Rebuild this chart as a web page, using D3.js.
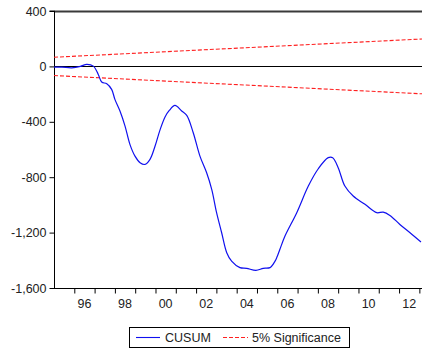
<!DOCTYPE html>
<html><head><meta charset="utf-8">
<script src="https://cdn.jsdelivr.net/npm/d3@7"></script>
<style>
html,body{margin:0;padding:0;background:#fff;}
svg{display:block;font-family:"Liberation Sans",Arial,sans-serif;}
</style></head>
<body><svg id="c" width="422" height="352"></svg>
<script>
const years = [1995.00,1995.39,1995.87,1996.30,1996.61,1996.94,1997.18,1997.35,1997.60,1997.84,1998.00,1998.25,1998.50,1998.74,1998.99,1999.24,1999.48,1999.73,1999.98,2000.22,2000.47,2000.68,2000.96,2001.29,2001.54,2001.86,2002.19,2002.52,2002.77,2003.01,2003.26,2003.51,2003.75,2004.16,2004.49,2004.95,2005.31,2005.64,2005.89,2005.99,2006.13,2006.38,2006.96,2007.53,2008.02,2008.51,2008.73,2009.00,2009.33,2009.74,2010.32,2010.90,2011.22,2011.55,2012.04,2012.54,2013.08];
const cusum = [-5,-5,-10,0,15,2,-58,-113,-125,-166,-238,-322,-431,-563,-648,-695,-708,-671,-575,-460,-365,-318,-282,-322,-354,-479,-648,-768,-888,-1056,-1201,-1345,-1406,-1453,-1458,-1473,-1458,-1453,-1406,-1375,-1320,-1225,-1056,-864,-739,-659,-659,-731,-864,-936,-996,-1056,-1052,-1076,-1141,-1201,-1268];
const sigYears = [1995.00, 2013.13];
const sigUpper = [66, 198];
const sigLower = [-66, -198];
const yTicks = [400, 0, -400, -800, -1200, -1600];
const xTickYears = [1996,1997,1998,1999,2000,2001,2002,2003,2004,2005,2006,2007,2008,2009,2010,2011,2012,2013];
const xLabelYears = [1996,1998,2000,2002,2004,2006,2008,2010,2012];
const xLabels = ["96","98","00","02","04","06","08","10","12"];
const seriesNames = ["CUSUM","5% Significance"];

const svg = d3.select("#c");
const L=54, R=422, T=11, B=288;
const FS = 12.5;
const x = d3.scaleLinear().domain([1995, 2013.13]).range([L, R]);
const y = d3.scaleLinear().domain([-1600, 400]).range([B, T]);

// top frame
svg.append("line").attr("x1",L).attr("x2",R).attr("y1",T+0.5).attr("y2",T+0.5)
  .attr("stroke","#3a3a3a").attr("stroke-width",2);

// zero line
svg.append("line").attr("x1",L).attr("x2",R).attr("y1",Math.round(y(0))+0.5).attr("y2",Math.round(y(0))+0.5)
  .attr("stroke","#000").attr("stroke-width",1.2);

// y axis
const ya = svg.append("g").attr("transform",`translate(${L+0.5},0)`)
  .call(d3.axisLeft(y).tickValues(yTicks).tickSize(5).tickPadding(3)
    .tickFormat(d => d3.format(",")(d).replace("\u2212","-")));
ya.select(".domain").attr("d",`M-5,${T}H0V${B}`).attr("stroke","#000");
ya.selectAll("text").attr("font-size",FS).attr("fill","#222").attr("font-family","Liberation Sans, Arial, sans-serif");

// x axis
const xa = svg.append("g").attr("transform",`translate(0,${B+0.5})`)
  .call(d3.axisBottom(x).tickValues(xTickYears).tickSize(5).tickFormat(""));
xa.select(".domain").attr("d",`M${L},0H${R}`).attr("stroke","#000");
svg.append("g").selectAll("text").data(xLabelYears).join("text")
  .attr("x", (d)=>x(d+0.5)).attr("y", B+19.5)
  .attr("text-anchor","middle").attr("font-size",FS).attr("fill","#222")
  .text((d,i)=>xLabels[i]);

// significance lines
const sigLine = d3.line().x((d,i)=>x(sigYears[i])).y(d=>y(d));
[sigUpper, sigLower].forEach(arr=>{
  svg.append("path").attr("d", sigLine(arr)).attr("fill","none")
    .attr("stroke","#ff2020").attr("stroke-width",1.1).attr("stroke-dasharray","4,2");
});

// CUSUM
const line = d3.line().x((d,i)=>x(years[i])).y(d=>y(d)).curve(d3.curveCatmullRom.alpha(0.5));
svg.append("path").attr("d", line(cusum)).attr("fill","none")
  .attr("stroke","#1010ee").attr("stroke-width",1.2);

// legend
const lg = svg.append("g");
lg.append("rect").attr("x",129.5).attr("y",327.5).attr("width",220).attr("height",20)
  .attr("fill","#fff").attr("stroke","#000").attr("stroke-width",1);
lg.append("line").attr("x1",136).attr("x2",160).attr("y1",337.5).attr("y2",337.5)
  .attr("stroke","#1010ee").attr("stroke-width",1.1);
lg.append("text").attr("x",165).attr("y",342).attr("font-size",FS).attr("fill","#222").text(seriesNames[0]);
lg.append("line").attr("x1",223).attr("x2",248).attr("y1",337.5).attr("y2",337.5)
  .attr("stroke","#ff2020").attr("stroke-width",1.1).attr("stroke-dasharray","4,2");
lg.append("text").attr("x",252).attr("y",342).attr("font-size",FS).attr("fill","#222").text(seriesNames[1]);
</script></body></html>
